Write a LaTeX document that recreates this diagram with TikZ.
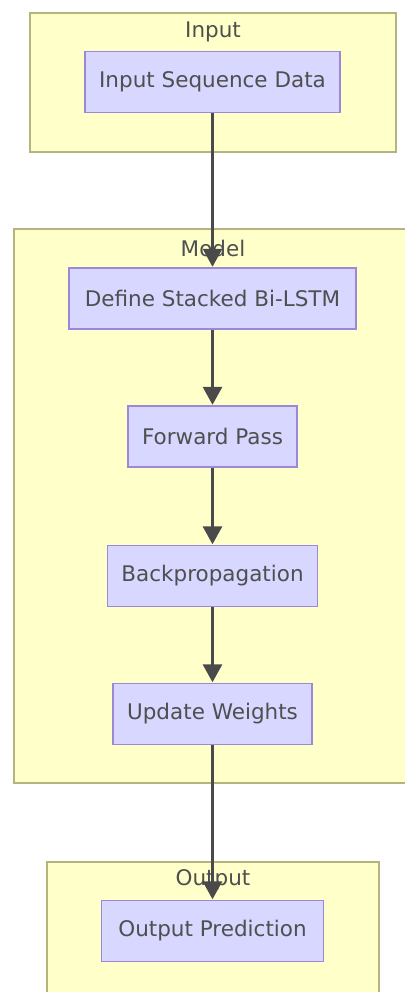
\documentclass[tikz,border=0pt]{standalone}
\usepackage{fontspec}
\setmainfont{DejaVu Sans}
\usetikzlibrary{arrows.meta}
\definecolor{clusterfill}{HTML}{FFFFCA}
\definecolor{clusterline}{HTML}{B4B47C}
\definecolor{nodefill}{HTML}{D7D7FF}
\definecolor{nodeline}{HTML}{9C88D8}
\definecolor{inkgray}{HTML}{4A4A4A}
\definecolor{textgray}{HTML}{4F4F4F}
\tikzset{
  cluster/.style={fill=clusterfill, draw=clusterline, line width=1.6pt},
  ctitle/.style={text=textgray, font=\fontsize{21.5}{23}\selectfont, inner sep=0pt},
  stepbox/.style={rectangle, fill=nodefill, draw=nodeline, line width=1.4pt,
    text=textgray, font=\fontsize{21.5}{23}\selectfont, minimum height=61pt, inner sep=0pt},
  flow/.style={draw=inkgray, line width=3pt,
    -{Triangle[length=18pt,width=19pt]}, shorten >=0.5pt},
}
\begin{document}
\begin{tikzpicture}[x=1pt, y=-1pt]
\useasboundingbox (0,0) rectangle (404,992);
% subgraph frames
\path[cluster] (30,13) rectangle (396,152);
\path[cluster] (14,229) rectangle (408,783);
\path[cluster] (47,862) rectangle (379,998);
% subgraph titles
\node[ctitle] (tin) at (213,32) {Input};
\node[ctitle] (tmodel) at (213,248) {Model};
\node[ctitle] (tout) at (213,880) {Output};
% steps
\node[stepbox, minimum width=255pt] (data) at (212.5,82) {Input Sequence Data};
\node[stepbox, minimum width=287pt] (define) at (212.5,298.5) {Define Stacked Bi-LSTM};
\node[stepbox, minimum width=169pt] (fwd) at (212.5,436.5) {Forward Pass};
\node[stepbox, minimum width=210pt] (back) at (212.5,576) {Backpropagation};
\node[stepbox, minimum width=199pt] (upd) at (212.5,714) {Update Weights};
\node[stepbox, minimum width=222pt] (pred) at (212.5,931) {Output Prediction};
% connectors
\draw[flow] (data) -- (define);
\draw[flow] (define) -- (fwd);
\draw[flow] (fwd) -- (back);
\draw[flow] (back) -- (upd);
\draw[flow] (upd) -- (pred);
\end{tikzpicture}
\end{document}
